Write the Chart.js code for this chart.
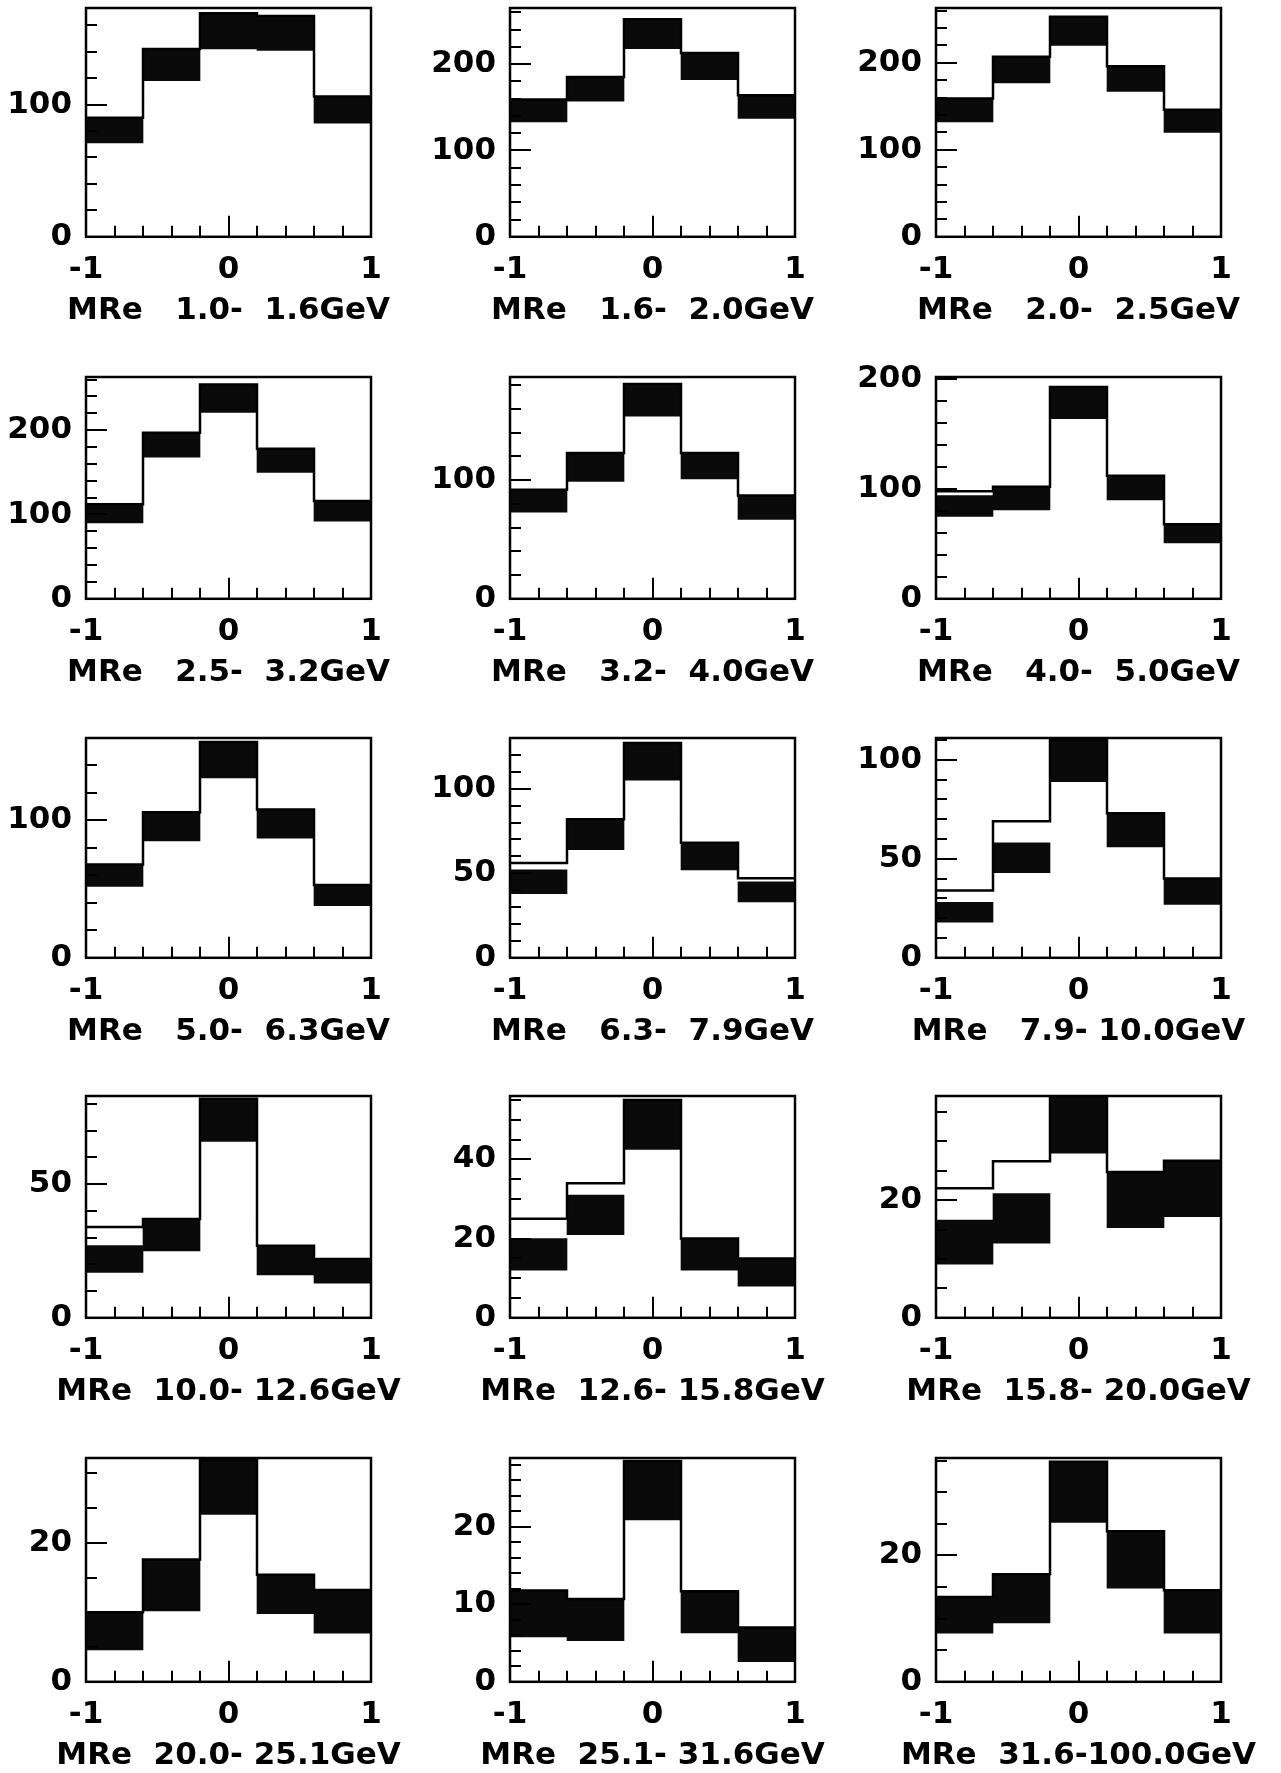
<!DOCTYPE html>
<html>
<head>
<meta charset="utf-8">
<title>MRe distributions</title>
<script src="https://cdn.jsdelivr.net/npm/chart.js@4.4.1/dist/chart.umd.min.js"></script>
<style>
  html, body { margin: 0; padding: 0; background: #fff; }
  body { width: 1281px; height: 1773px; position: relative; overflow: hidden; }
  canvas { position: absolute; }
</style>
</head>
<body>
<script>
// 5 bins from -1 to 1 in every panel
const binEdges = [-1, -0.6, -0.2, 0.2, 0.6, 1];
const xTickLabels = [-1, 0, 1];

const panelTitles = [
  'MRe   1.0-  1.6GeV', 'MRe   1.6-  2.0GeV', 'MRe   2.0-  2.5GeV',
  'MRe   2.5-  3.2GeV', 'MRe   3.2-  4.0GeV', 'MRe   4.0-  5.0GeV',
  'MRe   5.0-  6.3GeV', 'MRe   6.3-  7.9GeV', 'MRe   7.9- 10.0GeV',
  'MRe  10.0- 12.6GeV', 'MRe  12.6- 15.8GeV', 'MRe  15.8- 20.0GeV',
  'MRe  20.0- 25.1GeV', 'MRe  25.1- 31.6GeV', 'MRe  31.6-100.0GeV'
];

// histogram line (one value per bin)
const lineVals = [
  [90, 142, 169, 167, 106],
  [159, 185, 252, 213, 164],
  [159, 207, 253, 196, 146],
  [112, 197, 254, 178, 116],
  [92, 123, 181, 123, 87],
  [98, 102, 193, 112, 68],
  [68, 106, 157, 108, 53],
  [56, 82, 127, 68, 47],
  [34, 69, 110, 73, 40],
  [34, 37, 82, 27, 22],
  [25, 34, 55, 20, 15],
  [22, 26.6, 37.6, 24.8, 26.7],
  [10, 17.6, 31.9, 15.4, 13.2],
  [11.8, 10.7, 28.5, 11.7, 7],
  [13.4, 17, 34.8, 23.8, 14.5]
];

// black error bands: upper and lower edge per bin
const bandHi = [
  [90, 142, 169, 167, 106],
  [159, 185, 252, 213, 164],
  [159, 207, 253, 196, 146],
  [112, 197, 254, 178, 116],
  [92, 123, 181, 123, 87],
  [94, 102, 193, 112, 68],
  [68, 106, 157, 108, 53],
  [52, 82, 127, 68, 45],
  [28, 58, 110, 73, 40],
  [27, 37, 82, 27, 22],
  [20, 31, 55, 20, 15],
  [16.6, 21.1, 37.6, 24.8, 26.7],
  [10, 17.6, 31.9, 15.4, 13.2],
  [11.8, 10.7, 28.5, 11.7, 7],
  [13.4, 17, 34.8, 23.8, 14.5]
];
const bandLo = [
  [71, 118, 142, 141, 86],
  [133, 157, 218, 182, 137],
  [132, 177, 220, 167, 120],
  [90, 168, 221, 150, 92],
  [73, 99, 154, 101, 67],
  [75, 81, 164, 90, 51],
  [52, 85, 131, 87, 38],
  [38, 64, 105, 52, 33],
  [18, 43, 89, 56, 27],
  [17, 25, 66, 16, 13],
  [12, 21, 42.5, 12, 8],
  [9.1, 12.7, 28, 15.3, 17.2],
  [4.6, 10.2, 24.1, 9.8, 7],
  [5.8, 5.3, 20.9, 6.3, 2.6],
  [7.7, 9.3, 25.2, 14.8, 7.7]
];

const yMax = [173, 265, 263, 263, 187, 202, 160, 130, 111, 83, 56, 37.7, 32.2, 28.9, 35.4];
const yTickLabels = [
  [0, 100], [0, 100, 200], [0, 100, 200],
  [0, 100, 200], [0, 100], [0, 100, 200],
  [0, 100], [0, 50, 100], [0, 50, 100],
  [0, 50], [0, 20, 40], [0, 20],
  [0, 20], [0, 10, 20], [0, 20]
];
const yMinorStep = [20, 20, 20, 20, 20, 20, 20, 10, 10, 10, 5, 5, 5, 2, 5];

// page layout
const AREA_W = 285, SIDE_W = 88, X_AXIS_H = 56, TITLE_H = 38, PAD_TOP = 24;
const colLeft = [86, 510, 936];
const rowTop = [8, 377, 738, 1096, 1458];
const rowHeight = [229, 222, 220, 222, 224];

Chart.defaults.font.family = "'DejaVu Sans', sans-serif";
Chart.defaults.font.size = 31;
Chart.defaults.font.weight = 'bold';
Chart.defaults.color = '#000';

// frame box + inward tick marks (minor ticks are not a Chart.js feature)
const frameTicks = {
  id: 'frameTicks',
  afterDatasetsDraw(chart, args, opts) {
    const { ctx, chartArea: a, scales: { x, y } } = chart;
    ctx.save();
    ctx.strokeStyle = '#000';
    ctx.lineWidth = 2;
    ctx.beginPath();
    const nx = Math.round((x.max - x.min) / opts.xStep);
    for (let i = 1; i < nx; i++) {
      const v = x.min + i * opts.xStep;
      const px = Math.round(x.getPixelForValue(v));
      const len = Math.abs(v) < 1e-6 ? opts.majorLen : opts.minorLen;
      ctx.moveTo(px, a.bottom);
      ctx.lineTo(px, a.bottom - len);
    }
    const ny = Math.floor(y.max / opts.yStep + 1e-6);
    for (let i = 1; i <= ny; i++) {
      const v = i * opts.yStep;
      const py = Math.round(y.getPixelForValue(v));
      const len = opts.yLabels.includes(v) ? opts.majorLen : opts.minorLen;
      ctx.moveTo(a.left, py);
      ctx.lineTo(a.left + len, py);
    }
    ctx.stroke();
    ctx.lineWidth = 2.5;
    ctx.strokeRect(a.left, a.top, a.right - a.left, a.bottom - a.top);
    ctx.restore();
  }
};

panelTitles.forEach((title, i) => {
  const row = Math.floor(i / 3), col = i % 3;
  const canvas = document.createElement('canvas');
  canvas.width = SIDE_W * 2 + AREA_W;
  canvas.height = PAD_TOP + rowHeight[row] + X_AXIS_H + TITLE_H;
  canvas.style.left = (colLeft[col] - SIDE_W) + 'px';
  canvas.style.top = (rowTop[row] - PAD_TOP) + 'px';
  document.body.appendChild(canvas);

  const centres = lineVals[i].map((_, b) => (binEdges[b] + binEdges[b + 1]) / 2);
  const bands = centres.map((c, b) => ({ x: c, y: [bandLo[i][b], bandHi[i][b]] }));
  const steps = lineVals[i].flatMap((v, b) => [
    { x: binEdges[b], y: v },
    { x: binEdges[b + 1], y: v }
  ]);

  new Chart(canvas, {
    type: 'bar',
    data: {
      datasets: [
        {
          type: 'line',
          data: steps,
          borderColor: '#000',
          borderWidth: 2.5,
          pointRadius: 0,
          tension: 0,
          fill: false
        },
        {
          type: 'bar',
          data: bands,
          backgroundColor: '#0a0a0a',
          borderWidth: 0,
          barPercentage: 1,
          categoryPercentage: 1
        }
      ]
    },
    options: {
      responsive: false,
      animation: false,
      devicePixelRatio: 1,
      layout: { padding: { top: PAD_TOP, left: 0, right: 0, bottom: 0 } },
      scales: {
        x: {
          type: 'linear',
          min: -1,
          max: 1,
          offset: false,
          grid: { display: false },
          border: { display: false },
          afterBuildTicks: ax => { ax.ticks = xTickLabels.map(v => ({ value: v })); },
          ticks: { padding: 7, maxRotation: 0, autoSkip: false },
          afterFit: ax => { ax.height = X_AXIS_H; ax.paddingLeft = 0; ax.paddingRight = 0; }
        },
        y: {
          min: 0,
          max: yMax[i],
          grid: { display: false },
          border: { display: false },
          afterBuildTicks: ax => { ax.ticks = yTickLabels[i].map(v => ({ value: v })); },
          ticks: { padding: 6, autoSkip: false },
          afterFit: ax => { ax.width = SIDE_W; ax.paddingTop = 0; ax.paddingBottom = 0; }
        },
        y2: {
          position: 'right',
          ticks: { display: false },
          grid: { display: false },
          border: { display: false },
          afterFit: ax => { ax.width = SIDE_W; }
        }
      },
      plugins: {
        legend: { display: false },
        tooltip: { enabled: false },
        title: {
          display: true,
          position: 'bottom',
          text: title,
          padding: { top: 0, bottom: 1 },
          font: { size: 31, weight: 'bold' }
        },
        frameTicks: {
          xStep: 0.2,
          yStep: yMinorStep[i],
          yLabels: yTickLabels[i],
          majorLen: 21,
          minorLen: 11
        }
      }
    },
    plugins: [frameTicks]
  });
});
</script>
</body>
</html>
